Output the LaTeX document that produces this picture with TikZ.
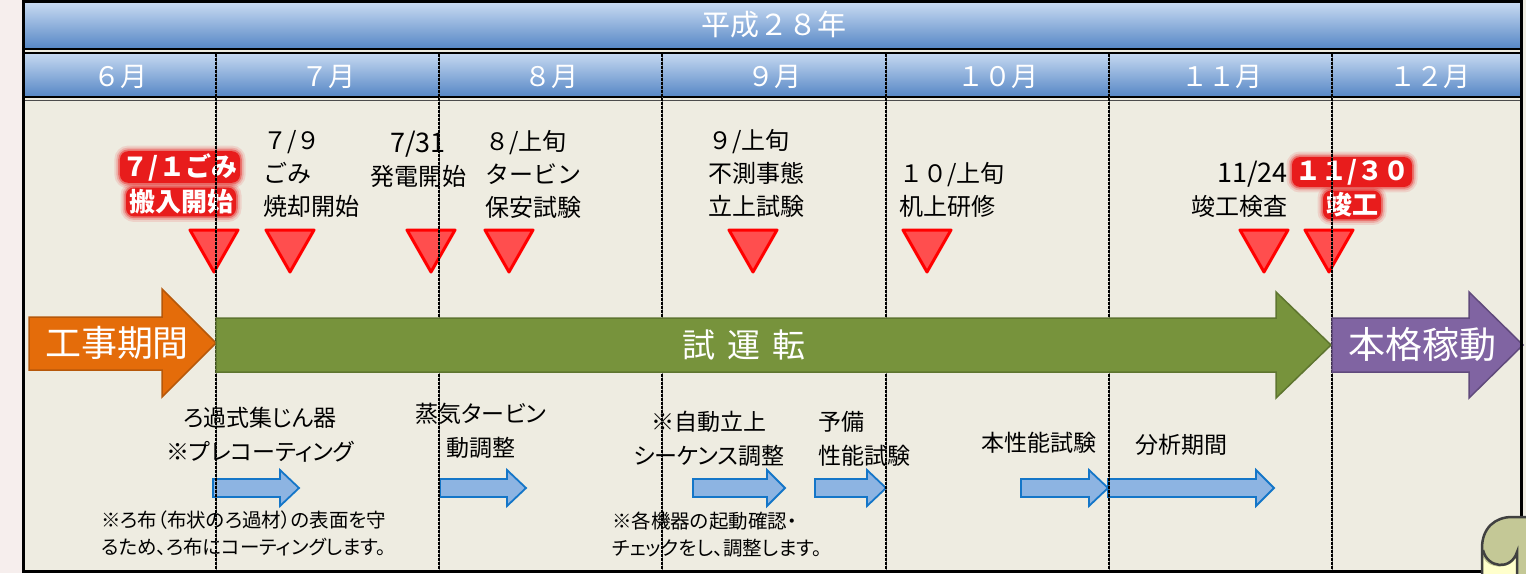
\documentclass[tikz,border=0pt]{standalone}
\usepackage{fontspec}
\setmainfont{Noto Sans CJK JP}
\usepackage{xcolor}
\usetikzlibrary{positioning}

\begin{document}
\begin{tikzpicture}[x = 1pt, y = -1pt,
  evlbl/.style = {font = \fontsize{24}{33}\selectfont, inner sep = 0pt, align = left},
  worklbl/.style = {font = \fontsize{23}{34}\selectfont\addfontfeature{RawFeature=+palt}, inner sep = 0pt, align = center},
  notelbl/.style = {font = \fontsize{19.5}{27}\selectfont\addfontfeature{RawFeature=+palt}, inner sep = 0pt, align = left},
  headlbl/.style = {font = \fontsize{27}{27}\selectfont, text = white, inner sep = 0pt},
  bandlbl/.style = {font = \fontsize{36}{36}\selectfont, text = white, inner sep = 0pt},
  redtag/.style = {font = \bfseries\fontsize{26}{26}\selectfont, text = white, fill = tagRed,
    rounded corners = 8pt, inner xsep = 3pt, inner ysep = 2pt,
    preaction = {draw = tagRed, draw opacity = 0.12, line width = 11pt},
    preaction = {draw = tagRed, draw opacity = 0.2, line width = 7pt},
    preaction = {draw = tagRed, draw opacity = 0.4, line width = 3.5pt}},
  marktri/.style = {fill = triRed, draw = red, line width = 3pt, line join = round},
  steparrow/.style = {fill = stepBlue, draw = stepLine, line width = 1.8pt},
  gridline/.style = {line width = 2.4pt, black, dash pattern = on 3pt off 1pt,
    preaction = {draw = black!55, solid}}]

  \definecolor{pinkBg}{RGB}{246, 238, 237};
  \definecolor{bodyBg}{RGB}{238, 236, 225};
  \definecolor{hdTop}{RGB}{198, 217, 241};
  \definecolor{hdBot}{RGB}{88, 136, 198};
  \definecolor{tagRed}{RGB}{232, 28, 28};
  \definecolor{triRed}{RGB}{255, 78, 78};
  \definecolor{stepBlue}{RGB}{141, 180, 226};
  \definecolor{stepLine}{RGB}{20, 118, 200};
  \definecolor{kojiOrange}{RGB}{228, 108, 10};
  \definecolor{kojiLine}{RGB}{182, 88, 10};
  \definecolor{testGreen}{RGB}{119, 147, 60};
  \definecolor{testLine}{RGB}{94, 117, 47};
  \definecolor{fullPurple}{RGB}{128, 100, 162};
  \definecolor{fullLine}{RGB}{96, 74, 124};
  \definecolor{curlGreen}{RGB}{196, 200, 150};
  \definecolor{curlYellow}{RGB}{255, 255, 204};
  \definecolor{curlLine}{RGB}{64, 64, 64};

  \useasboundingbox (0,0) rectangle (1526,573);
  \fill[pinkBg] (0,0) rectangle (23,573);
  \fill[bodyBg] (23,0) rectangle (1526,573);

  % header bands
  \shade[top color = hdTop, bottom color = hdBot] (25,3) rectangle (1521,48);
  \shade[top color = hdTop, bottom color = hdBot] (25,53) rectangle (1521,96);
  \fill[black] (23,48) rectangle (1523,50);
  \fill[black] (23,52) rectangle (1523,53.5);
  \fill[black] (23,96) rectangle (1523,98);
  \fill[black!70] (23,100) rectangle (1523,100.8);

  \node[headlbl, font = \fontsize{29}{29}\selectfont] (year) at (774,25) {平成２８年};
  \foreach \mx/\mt [count = \i] in {120/６月, 328/７月, 551/８月, 774/９月,
      998/１０月, 1222/１１月, 1430/１２月}
    \node[headlbl] (m\i) at (\mx,77) {\mt};

  % events
  \node[evlbl, anchor = west] (ev79) at (263,174) {７/９\\ごみ\\焼却開始};
  \node[evlbl, align = center] (ev731) at (418,159.5) {{\fontsize{27}{33}\selectfont 7/31}\\発電開始};
  \node[evlbl, anchor = west] (ev8) at (485,174) {８/上旬\\タービン\\保安試験};
  \node[evlbl, anchor = west] (ev9) at (708,173) {９/上旬\\不測事態\\立上試験};
  \node[evlbl, anchor = west] (ev10) at (899,189.5) {１０/上旬\\机上研修};
  \node[evlbl, anchor = east, align = right] (ev1124) at (1288,189.5) {{\fontsize{27}{33}\selectfont 11/24}\\竣工検査};

  \foreach \tx in {214, 290, 431, 509, 753, 927, 1264, 1329}
    \filldraw[marktri] (\tx-24,230) -- (\tx+24,230) -- (\tx,272) -- cycle;

  \node[redtag] (tag71) at (180,167) {７/１ごみ};
  \node[redtag] (tag71b) at (181,202) {搬入開始};
  \node[redtag] (tag1130) at (1352,172) {１１/３０};
  \node[redtag] (tag1130b) at (1352,205) {竣工};

  % work items
  \node[worklbl] (wk1) at (260,435) {ろ過式集じん器\\※プレコーティング};
  \node[worklbl] (wk2) at (481,430.5) {蒸気タービン\\動調整};
  \node[worklbl] (wk3) at (709,438.5) {※自動立上\\シーケンス調整};
  \node[worklbl, anchor = west, align = left] (wk4) at (818,438.5) {予備\\性能試験};
  \node[worklbl] (wk5) at (1039,443) {本性能試験};
  \node[worklbl] (wk6) at (1181,445) {分析期間};

  \foreach \s/\h/\e in {213/280/299, 440/507/526, 693/767/785, 815/867/886,
      1021/1089/1108, 1108/1256/1274}
    \filldraw[steparrow] (\s,479) -- (\h,479) -- (\h,470) -- (\e,488)
      -- (\h,506) -- (\h,497) -- (\s,497) -- cycle;

  \node[notelbl, anchor = west] (nt1) at (101,533.5)
    {※ろ布（布状のろ過材）の表面を守\\るため、ろ布にコーティングします。};
  \node[notelbl, anchor = west] (nt2) at (612,535)
    {※各機器の起動確認・\\チェックをし、調整します。};

  % month borders
  \foreach \gx in {216, 439, 662, 886, 1109, 1332}
    \draw[gridline] (\gx,53.5) -- (\gx,570);

  % phases
  \filldraw[fill = kojiOrange, draw = kojiLine, line width = 1.5pt]
    (29,317) -- (162,317) -- (162,289) -- (216,343) -- (162,397) -- (162,370) -- (29,370) -- cycle;
  \filldraw[fill = testGreen, draw = testLine, line width = 1.5pt]
    (216,318) -- (1276,318) -- (1276,292) -- (1331,345) -- (1276,398) -- (1276,372) -- (216,372) -- cycle;
  \filldraw[fill = fullPurple, draw = fullLine, line width = 1.5pt]
    (1332,318) -- (1469,318) -- (1469,292) -- (1523,345) -- (1469,398) -- (1469,372) -- (1332,372) -- cycle;

  \node[bandlbl] (koji) at (117,343) {工事期間};
  \node[bandlbl, font = \fontsize{33}{33}\selectfont] (test) at (744,345) {試\hspace{12pt}運\hspace{12pt}転};
  \node[bandlbl, font = \fontsize{37}{37}\selectfont] (full) at (1422,345) {本格稼動};

  \draw[line width = 3pt] (23.5,1.5) rectangle (1521.5,571.5);

  % curl
  \filldraw[fill = curlGreen, draw = curlLine, line width = 2.5pt]
    (1482,575) -- (1482,548) .. controls (1482,528) and (1495,517) .. (1512,517) -- (1528,517) -- (1528,575);
  \fill[curlYellow] (1483.5,558) .. controls (1488,569) and (1510,570) .. (1516,558) -- (1516,575) -- (1483.5,575) -- cycle;
  \draw[curlLine, line width = 2.5pt] (1483,550) .. controls (1487,568) and (1511,571) .. (1517,552) -- (1517,575);
\end{tikzpicture}
\end{document}
